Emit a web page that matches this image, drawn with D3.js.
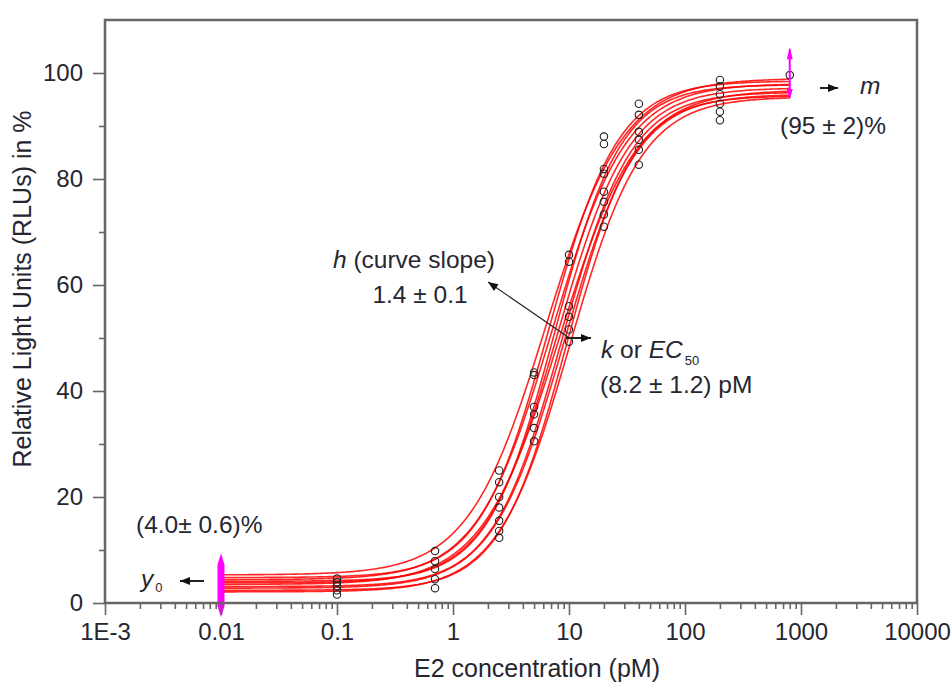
<!DOCTYPE html>
<html>
<head>
<meta charset="utf-8">
<script src="https://cdn.jsdelivr.net/npm/d3@7"></script>
<style>
  html, body { margin: 0; padding: 0; background: #fff; }
  svg { display: block; font-family: "Liberation Sans", Arial, sans-serif; }
</style>
</head>
<body>
<svg id="chart" width="952" height="684"></svg>
<script>
// ---- Data ----
const xMajorTicks = [1e-3, 1e-2, 1e-1, 1, 10, 100, 1000, 10000];
const xTickLabels = ["1E-3", "0.01", "0.1", "1", "10", "100", "1000", "10000"];
const yMajorTicks = [0, 20, 40, 60, 80, 100];
const yMinorTicks = [10, 30, 50, 70, 90];

// measured concentrations (pM) and responses (%)
const concentrations = [0.01, 0.1, 0.7, 2.5, 5, 10, 20, 40, 200, 800];
const responses = [
  [3.7],
  [4.6, 3.9, 3.2, 2.4, 1.6],
  [9.8, 7.9, 6.4, 4.5, 2.8],
  [25, 22.8, 20, 18, 15.5, 13.6, 12.3],
  [43.5, 43, 37, 35.6, 33, 30.5],
  [65.7, 64.4, 56, 54, 51.6, 49.3],
  [88, 86.6, 81.9, 81, 77.6, 75.7, 73.3, 71],
  [94.2, 92.1, 88.9, 87.4, 85.5, 82.7],
  [98.7, 97.5, 96, 94.2, 92.7, 91.1],
  [99.6]
];

// fitted 4-parameter logistic curves (one per replicate)
const fitY0 = [5.3, 4.8, 4.4, 4.1, 3.8, 3.5, 3.1, 2.8, 2.4, 2.1];
const fitM  = [99.0, 98.5, 98.0, 97.8, 97.2, 96.8, 96.4, 96.0, 95.7, 95.5];
const fitK  = [6.3, 6.7, 7.1, 7.5, 7.9, 8.3, 8.7, 9.1, 9.6, 10.2];
const fitH  = [1.3, 1.45, 1.35, 1.5, 1.4, 1.3, 1.45, 1.4, 1.5, 1.4];
const curveRange = [0.01, 800];

// ---- Layout ----
const svg = d3.select("#chart");
const mLeft = 105, mRight = 917, mTop = 20, mBottom = 603;
const x = d3.scaleLog().domain([1e-3, 1e4]).range([mLeft, mRight]);
const y = d3.scaleLinear().domain([0, 110]).range([mBottom, mTop]);

const axisColor = "#666";
const textColor = "#262630";

// ---- Curves ----
const curveG = svg.append("g");
const line = d3.line().x(d => x(d[0])).y(d => y(d[1]));
const logMin = Math.log10(curveRange[0]), logMax = Math.log10(curveRange[1]);
fitY0.forEach((y0, i) => {
  const pts = d3.range(0, 301).map(j => {
    const c = Math.pow(10, logMin + (logMax - logMin) * j / 300);
    return [c, y0 + (fitM[i] - y0) / (1 + Math.pow(fitK[i] / c, fitH[i]))];
  });
  curveG.append("path").datum(pts).attr("d", line)
    .attr("fill", "none").attr("stroke", "#ff0000").attr("stroke-width", 1.6)
    .attr("stroke-opacity", 0.85);
});

// ---- Points ----
const ptG = svg.append("g");
concentrations.forEach((c, i) => {
  responses[i].forEach(v => {
    ptG.append("circle").attr("cx", x(c)).attr("cy", y(v))
      .attr("r", i === 0 ? 1.6 : 3.7)
      .attr("fill", "none").attr("stroke", "#222").attr("stroke-width", 1.1);
  });
});

// ---- Magenta markers ----
const mx1 = x(0.01);
svg.append("path")
  .attr("d", `M${mx1},${y(9.4)} L${mx1 + 3.5},${y(7.2)} L${mx1 + 3.5},${y(-0.6)} L${mx1},${y(-2.7)} L${mx1 - 3.5},${y(-0.6)} L${mx1 - 3.5},${y(7.2)} Z`)
  .attr("fill", "#ff00ff");
const mx2 = x(800);
svg.append("line").attr("x1", mx2).attr("x2", mx2).attr("y1", y(104.5)).attr("y2", y(95.3))
  .attr("stroke", "#ff00ff").attr("stroke-width", 2);
svg.append("path")
  .attr("d", `M${mx2},${y(104.8)} L${mx2 + 3},${y(102.6)} L${mx2 - 3},${y(102.6)} Z M${mx2},${y(95.0)} L${mx2 + 3},${y(97.0)} L${mx2 - 3},${y(97.0)} Z`)
  .attr("fill", "#ff00ff");

// ---- Axes ----
const tickFont = 24;
const xAxis = d3.axisBottom(x).tickValues(xMajorTicks)
  .tickFormat((d, i) => xTickLabels[i]).tickSize(12).tickPadding(8);
const xMinor = [];
for (let e = -3; e < 4; e++) for (let m = 2; m <= 9; m++) xMinor.push(m * Math.pow(10, e));
const gxm = svg.append("g").attr("transform", `translate(0,${mBottom})`)
  .call(d3.axisBottom(x).tickValues(xMinor).tickFormat("").tickSize(6));
const gx = svg.append("g").attr("transform", `translate(0,${mBottom})`).call(xAxis);

const gym = svg.append("g").attr("transform", `translate(${mLeft},0)`)
  .call(d3.axisLeft(y).tickValues(yMinorTicks).tickFormat("").tickSize(6));
const gy = svg.append("g").attr("transform", `translate(${mLeft},0)`)
  .call(d3.axisLeft(y).tickValues(yMajorTicks).tickSize(12).tickPadding(10));

[gx, gy, gxm, gym].forEach(g => {
  g.select(".domain").remove();
  g.selectAll(".tick line").attr("stroke", axisColor).attr("stroke-width", 1.6);
  g.selectAll("text").attr("fill", textColor).attr("font-size", tickFont)
    .attr("font-family", "'Liberation Sans', Arial, sans-serif");
});

// frame
svg.append("rect").attr("x", mLeft).attr("y", mTop).attr("width", mRight - mLeft).attr("height", mBottom - mTop)
  .attr("fill", "none").attr("stroke", axisColor).attr("stroke-width", 2.5);

// axis titles
svg.append("text").attr("x", 537).attr("y", 677)
  .attr("text-anchor", "middle").attr("font-size", 25).attr("fill", textColor)
  .text("E2 concentration (pM)");
svg.append("text").attr("transform", `translate(31,${289}) rotate(-90)`)
  .attr("text-anchor", "middle").attr("font-size", 25).attr("fill", textColor)
  .text("Relative Light Units (RLUs) in %");

// ---- Annotations ----
const fs = 24.5;
function arrow(x1, y1, x2, y2, w) {
  svg.append("line").attr("x1", x1).attr("y1", y1).attr("x2", x2).attr("y2", y2)
    .attr("stroke", "#222").attr("stroke-width", w);
  const ang = Math.atan2(y2 - y1, x2 - x1), L = 10, W = 4;
  const bx = x2 - L * Math.cos(ang), by = y2 - L * Math.sin(ang);
  const px = -Math.sin(ang) * W, py = Math.cos(ang) * W;
  svg.append("path").attr("d", `M${x2},${y2} L${bx + px},${by + py} L${bx - px},${by - py} Z`).attr("fill", "#111");
}

// y0
svg.append("text").attr("x", 136).attr("y", 533).attr("font-size", fs).attr("fill", textColor).text("(4.0\u00b1 0.6)%");
const y0t = svg.append("text").attr("x", 141).attr("y", 587).attr("font-size", fs).attr("fill", textColor);
y0t.append("tspan").attr("font-style", "italic").text("y");
y0t.append("tspan").attr("font-size", 13).attr("dy", 5).attr("dx", 2).text("0");
arrow(204, 581, 180, 581, 2);

// m
svg.append("text").attr("x", 860).attr("y", 94).attr("font-size", fs).attr("font-style", "italic").attr("fill", textColor).text("m");
arrow(820, 88, 838, 88, 2);
svg.append("text").attr("x", 780).attr("y", 134).attr("font-size", fs).attr("fill", textColor).text("(95 \u00b1 2)%");

// h
const ht = svg.append("text").attr("x", 414).attr("y", 268).attr("text-anchor", "middle").attr("font-size", fs).attr("fill", textColor);
ht.append("tspan").attr("font-style", "italic").text("h");
ht.append("tspan").text(" (curve slope)");
svg.append("text").attr("x", 420).attr("y", 303).attr("text-anchor", "middle").attr("font-size", fs).attr("fill", textColor).text("1.4 \u00b1 0.1");
arrow(568, 337, 488, 282, 1.2);

// k / EC50
arrow(566, 338, 591, 338, 2);
const kt = svg.append("text").attr("x", 601).attr("y", 358).attr("font-size", fs).attr("fill", textColor);
kt.append("tspan").attr("font-style", "italic").text("k");
kt.append("tspan").text(" or ");
kt.append("tspan").attr("font-style", "italic").text("EC");
kt.append("tspan").attr("font-size", 13).attr("dy", 7).attr("dx", 2).text("50");
svg.append("text").attr("x", 600).attr("y", 393).attr("font-size", fs).attr("fill", textColor).text("(8.2 \u00b1 1.2) pM");
</script>
</body>
</html>
